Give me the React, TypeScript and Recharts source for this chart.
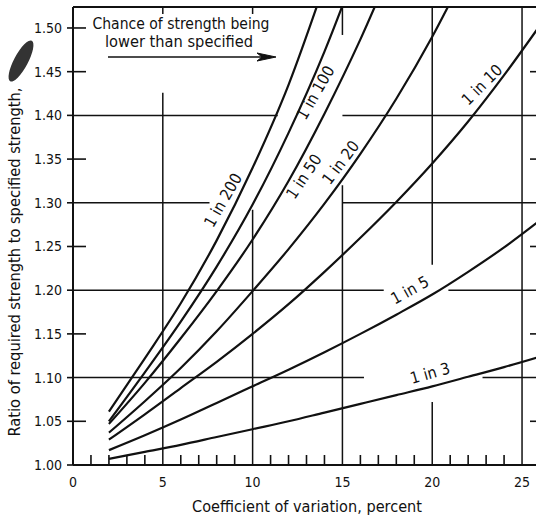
import React from 'react';
import { LineChart, Line, XAxis, YAxis, ReferenceLine, ReferenceDot, Customized } from 'recharts';

// Coefficient of variation, percent
const coefficientOfVariation = [2, 4, 6, 8, 10, 12, 14, 16, 18, 20, 22, 24, 26];

// Ratio of required strength to specified strength, one list per curve
const oneIn200 = [1.061, 1.122, 1.185, 1.257, 1.34, 1.435, 1.55, null, null, null, null, null, null];
const oneIn100 = [1.05, 1.106, 1.164, 1.227, 1.298, 1.38, 1.473, 1.58, null, null, null, null, null];
const oneIn50 = [1.047, 1.094, 1.145, 1.199, 1.258, 1.325, 1.402, 1.487, 1.582, null, null, null, null];
const oneIn20 = [1.037, 1.073, 1.111, 1.153, 1.199, 1.247, 1.299, 1.356, 1.419, 1.49, 1.57, null, null];
const oneIn10 = [1.029, 1.058, 1.088, 1.118, 1.15, 1.184, 1.221, 1.26, 1.301, 1.345, 1.393, 1.446, 1.503];
const oneIn5 = [1.017, 1.034, 1.052, 1.071, 1.09, 1.109, 1.129, 1.15, 1.172, 1.195, 1.221, 1.249, 1.28];
const oneIn3 = [1.007, 1.015, 1.023, 1.032, 1.041, 1.05, 1.06, 1.07, 1.08, 1.09, 1.101, 1.112, 1.124];

const seriesKeys = ['s200', 's100', 's50', 's20', 's10', 's5', 's3'];
const seriesNames = ['1 in 200', '1 in 100', '1 in 50', '1 in 20', '1 in 10', '1 in 5', '1 in 3'];

// Axis ticks
const yTicks = [1.0, 1.05, 1.1, 1.15, 1.2, 1.25, 1.3, 1.35, 1.4, 1.45, 1.5];
const xTicks = [0, 5, 10, 15, 20, 25];
const xMinorTicks = [1, 2, 3, 4, 6, 7, 8, 9, 11, 12, 13, 14, 16, 17, 18, 19, 21, 22, 23, 24];
const yInnerTicks = [1.05, 1.15, 1.25, 1.35, 1.45, 1.5];
const rightTicks = [1.05, 1.15, 1.25, 1.35, 1.45];

const rows = coefficientOfVariation.map((cv, i) => ({
  cv,
  s200: oneIn200[i],
  s100: oneIn100[i],
  s50: oneIn50[i],
  s20: oneIn20[i],
  s10: oneIn10[i],
  s5: oneIn5[i],
  s3: oneIn3[i],
}));

// Layout / style constants (kept apart from the data)
const X_MAX = 26;
const Y_MIN = 1.0;
const Y_MAX = 1.524;
const CHART_W = 545;
const CHART_H = 522;
const MARGIN = { top: 7, right: 5, bottom: 0, left: 0 };
const Y_AXIS_W = 73;
const X_AXIS_H = 57;
const PLOT_LEFT = MARGIN.left + Y_AXIS_W;
const PLOT_RIGHT = CHART_W - MARGIN.right;
const PLOT_TOP = MARGIN.top;
const PLOT_BOTTOM = CHART_H - MARGIN.bottom - X_AXIS_H;
const INK = '#111';
const FONT = "'DejaVu Sans Condensed', 'Liberation Sans Narrow', 'DejaVu Sans', sans-serif";

const toPx = (x: number) => PLOT_LEFT + ((PLOT_RIGHT - PLOT_LEFT) * x) / X_MAX;
const toPy = (v: number) => PLOT_BOTTOM - ((PLOT_BOTTOM - PLOT_TOP) * (v - Y_MIN)) / (Y_MAX - Y_MIN);

// broken grid lines as in the printed chart (data units)
const horizontalGrid = [
  { y: 1.4, from: 0, to: 11.4 },
  { y: 1.4, from: 15, to: X_MAX },
  { y: 1.3, from: 0, to: 7.6 },
  { y: 1.3, from: 15, to: X_MAX },
  { y: 1.2, from: 0, to: 17.3 },
  { y: 1.2, from: 20.9, to: X_MAX },
  { y: 1.1, from: 0, to: 16.2 },
  { y: 1.1, from: 22.8, to: X_MAX },
];
const verticalGrid = [
  { x: 5, from: 1.0, to: 1.426 },
  { x: 5, from: 1.516, to: Y_MAX },
  { x: 10, from: 1.0, to: 1.292 },
  { x: 10, from: 1.516, to: Y_MAX },
  { x: 15, from: 1.0, to: 1.32 },
  { x: 15, from: 1.492, to: Y_MAX },
  { x: 20, from: 1.0, to: 1.072 },
  { x: 20, from: 1.229, to: Y_MAX },
  { x: 25, from: 1.0, to: Y_MAX },
];

const labelPlacements = [
  { x: 8.35, y: 1.303, angle: -60 },
  { x: 13.5, y: 1.426, angle: -60 },
  { x: 12.85, y: 1.33, angle: -56 },
  { x: 14.9, y: 1.346, angle: -53 },
  { x: 22.77, y: 1.435, angle: -45 },
  { x: 18.76, y: 1.2, angle: -29 },
  { x: 19.88, y: 1.105, angle: -16 },
];

function Annotations() {
  return (
    <g fontFamily={FONT} fill={INK}>
      {/* inward axis ticks */}
      <g stroke={INK} strokeWidth={1.6}>
        {yInnerTicks.map((t) => (
          <line key={`yi${t}`} x1={PLOT_LEFT} x2={PLOT_LEFT + 13} y1={toPy(t)} y2={toPy(t)} />
        ))}
        {xMinorTicks.map((t) => (
          <line key={`xm${t}`} x1={toPx(t)} x2={toPx(t)} y1={PLOT_BOTTOM} y2={PLOT_BOTTOM - 10} />
        ))}
        {rightTicks.map((t) => (
          <line key={`rt${t}`} x1={PLOT_RIGHT - 10} x2={PLOT_RIGHT} y1={toPy(t)} y2={toPy(t)} />
        ))}
      </g>
      <text x={181} y={29} textAnchor="middle" fontSize={16} textLength={177} lengthAdjust="spacingAndGlyphs">
        Chance of strength being
      </text>
      <text x={179} y={47} textAnchor="middle" fontSize={16} textLength={148} lengthAdjust="spacingAndGlyphs">
        lower than specified
      </text>
      <line x1={108} x2={262} y1={57} y2={57} stroke={INK} strokeWidth={1.6} />
      <polygon points="257,53 276,57 257,61 262,57" fill={INK} stroke={INK} strokeWidth={1} />
      <text
        x={20}
        y={262}
        textAnchor="middle"
        fontSize={15}
        transform="rotate(-90 20 262)"
        textLength={349}
        lengthAdjust="spacingAndGlyphs"
      >
        Ratio of required strength to specified strength,
      </text>
      <ellipse cx={21} cy={61} rx={23} ry={7} transform="rotate(-62 21 61)" fill="#333" />
      <text x={307} y={512} textAnchor="middle" fontSize={15} textLength={230} lengthAdjust="spacingAndGlyphs">
        Coefficient of variation, percent
      </text>
    </g>
  );
}

const seg = (key: string, x1: number, y1: number, x2: number, y2: number, w = 1.5) => (
  <ReferenceLine
    key={key}
    segment={[
      { x: x1, y: y1 },
      { x: x2, y: y2 },
    ]}
    stroke={INK}
    strokeWidth={w}
    ifOverflow="visible"
  />
);

export default function App() {
  return (
    <div
      style={{
        position: 'absolute',
        left: 0,
        top: 0,
        width: 536,
        height: 522,
        overflow: 'hidden',
        background: '#fff',
      }}
    >
      <LineChart width={CHART_W} height={CHART_H} data={rows} margin={MARGIN}>
        <XAxis
          dataKey="cv"
          type="number"
          domain={[0, X_MAX]}
          allowDataOverflow
          ticks={xTicks}
          interval={0}
          tickSize={0}
          tickMargin={12}
          tick={{ fontSize: 14, fontFamily: FONT, fill: INK }}
          tickLine={false}
          axisLine={{ stroke: INK, strokeWidth: 2 }}
          height={X_AXIS_H}
        />
        <YAxis
          type="number"
          domain={[Y_MIN, Y_MAX]}
          allowDataOverflow
          ticks={yTicks}
          interval={0}
          tickSize={6}
          tickMargin={5}
          tickFormatter={(v: number) => v.toFixed(2)}
          tick={{ fontSize: 14, fontFamily: FONT, fill: INK }}
          tickLine={{ stroke: INK, strokeWidth: 1.6 }}
          axisLine={{ stroke: INK, strokeWidth: 2 }}
          width={Y_AXIS_W}
        />
        {horizontalGrid.map((g, i) => seg(`h${i}`, g.from, g.y, g.to, g.y))}
        {verticalGrid.map((g, i) => seg(`v${i}`, g.x, g.from, g.x, g.to))}
        <ReferenceLine y={Y_MAX} stroke={INK} strokeWidth={2} ifOverflow="visible" />
        {seriesKeys.map((k, i) => (
          <Line
            key={k}
            dataKey={k}
            name={seriesNames[i]}
            type="monotone"
            stroke={INK}
            strokeWidth={2.2}
            dot={false}
            activeDot={false}
            isAnimationActive={false}
          />
        ))}
        {labelPlacements.map((l, i) => (
          <ReferenceDot
            key={`l${i}`}
            x={l.x}
            y={l.y}
            r={0}
            ifOverflow="visible"
            shape={(p: any) => (
              <text
                x={p.cx}
                y={p.cy}
                transform={`rotate(${l.angle} ${p.cx} ${p.cy})`}
                textAnchor="middle"
                dominantBaseline="central"
                fontSize={16}
                fontFamily={FONT}
                fill={INK}
              >
                {seriesNames[i]}
              </text>
            )}
          />
        ))}
        <Customized component={Annotations} />
      </LineChart>
    </div>
  );
}
